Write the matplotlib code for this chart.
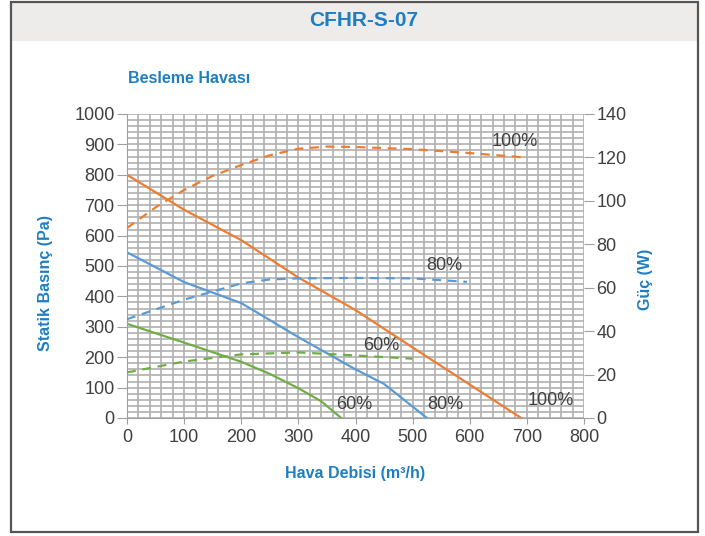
import matplotlib
matplotlib.use("Agg")
import matplotlib.pyplot as plt
from matplotlib.patches import Rectangle
from matplotlib.ticker import MultipleLocator

# air flow (m3/h) vs static pressure (Pa), solid lines
flow_100 = [0, 100, 200, 300, 400, 500, 600, 690]
pres_100 = [800, 685, 585, 462, 355, 232, 110, 0]
flow_80 = [0, 100, 200, 300, 400, 450, 525]
pres_80 = [545, 447, 378, 266, 160, 112, 0]
flow_60 = [0, 100, 200, 250, 300, 340, 375]
pres_60 = [310, 248, 185, 145, 98, 55, 0]

# air flow vs power (W), dashed lines on right axis
pflow_100 = [0, 50, 100, 150, 200, 250, 300, 350, 400, 500, 600, 695]
power_100 = [87.5, 97, 105, 111.5, 116.5, 121, 124, 125, 124.8, 123.8, 122, 120]
pflow_80 = [0, 100, 200, 250, 300, 400, 500, 595]
power_80 = [45.5, 54.5, 62, 63.8, 64.3, 64.5, 64.3, 62.7]
pflow_60 = [0, 100, 200, 300, 400, 500]
power_60 = [21, 26, 29.3, 30.2, 28.8, 27.3]

orange = "#ED7D31"
blue = "#5B9BD5"
green = "#70AD47"
txt_blue = "#1F7EC1"
dark = "#404040"
gridc = "#b0b0b0"

plt.rcParams["font.family"] = ["Liberation Sans", "DejaVu Sans"]

fig = plt.figure(figsize=(7.05, 5.36), dpi=100)

# frame and title band
fig.patches.append(Rectangle((11/705, 1 - 41/536), 687/705, 39/536, transform=fig.transFigure,
                             facecolor="#edecea", edgecolor="none", zorder=0))
fig.patches.append(Rectangle((11/705, 1 - 532/536), 687/705, 530/536, transform=fig.transFigure,
                             facecolor="none", edgecolor="#555555", linewidth=1.6, zorder=1))
fig.text(0.516, 0.961, "CFHR-S-07", ha="center", va="center", fontsize=15,
         fontweight="bold", color=txt_blue)
fig.text(0.1816, 0.854, "Besleme Havası", ha="left", va="center", fontsize=11.5,
         fontweight="bold", color=txt_blue)

ax = fig.add_axes([127/705, 1 - 418/536, 457/705, 304/536])
ax.set_xlim(0, 800)
ax.set_ylim(0, 1000)
ax.xaxis.set_major_locator(MultipleLocator(100))
ax.yaxis.set_major_locator(MultipleLocator(100))
ax.xaxis.set_minor_locator(MultipleLocator(20))
ax.yaxis.set_minor_locator(MultipleLocator(20))
ax.grid(True, which="both", color=gridc, linewidth=1.2)
ax.set_axisbelow(True)
for s in ["top", "right"]:
    ax.spines[s].set_visible(False)
for s in ["left", "bottom"]:
    ax.spines[s].set_color("#a0a0a0")
ax.tick_params(which="minor", length=0)
ax.tick_params(axis="y", which="major", length=7, pad=2, colors="#a0a0a0",
               labelcolor=dark, labelsize=13)
ax.tick_params(axis="x", which="major", length=4, pad=4, colors="#a0a0a0",
               labelcolor=dark, labelsize=13)

ax.plot(flow_100, pres_100, color=orange, lw=1.6)
ax.plot(flow_80, pres_80, color=blue, lw=1.6)
ax.plot(flow_60, pres_60, color=green, lw=1.6)

ax2 = ax.twinx()
ax2.set_ylim(0, 140)
ax2.yaxis.set_major_locator(MultipleLocator(20))
for s in ["top", "left", "bottom", "right"]:
    ax2.spines[s].set_visible(False)
ax2.tick_params(axis="y", length=7, pad=2, colors="#a0a0a0", labelcolor=dark, labelsize=13)
ax2.plot(pflow_100, power_100, color=orange, lw=1.6, ls=(0, (4, 3)))
ax2.plot(pflow_80, power_80, color=blue, lw=1.6, ls=(0, (4, 3)))
ax2.plot(pflow_60, power_60, color=green, lw=1.6, ls=(0, (4, 3)))

# curve labels
for x, y, t in [(679, 911, "100%"), (555, 500, "80%"), (445, 237, "60%"),
                (397, 43, "60%"), (557, 43, "80%"), (741, 59, "100%")]:
    ax.text(x, y, t, ha="center", va="center", fontsize=13, color=dark)

fig.text(0.064, 0.472, "Statik Basınç (Pa)", rotation=90, ha="center", va="center",
         fontsize=11.5, fontweight="bold", color=txt_blue)
fig.text(0.915, 0.478, "Güç (W)", rotation=90, ha="center", va="center",
         fontsize=11.5, fontweight="bold", color=txt_blue)
fig.text(0.504, 0.1175, "Hava Debisi (m³/h)", ha="center", va="center",
         fontsize=11.5, fontweight="bold", color=txt_blue)

fig.savefig("out.png", dpi=100)
